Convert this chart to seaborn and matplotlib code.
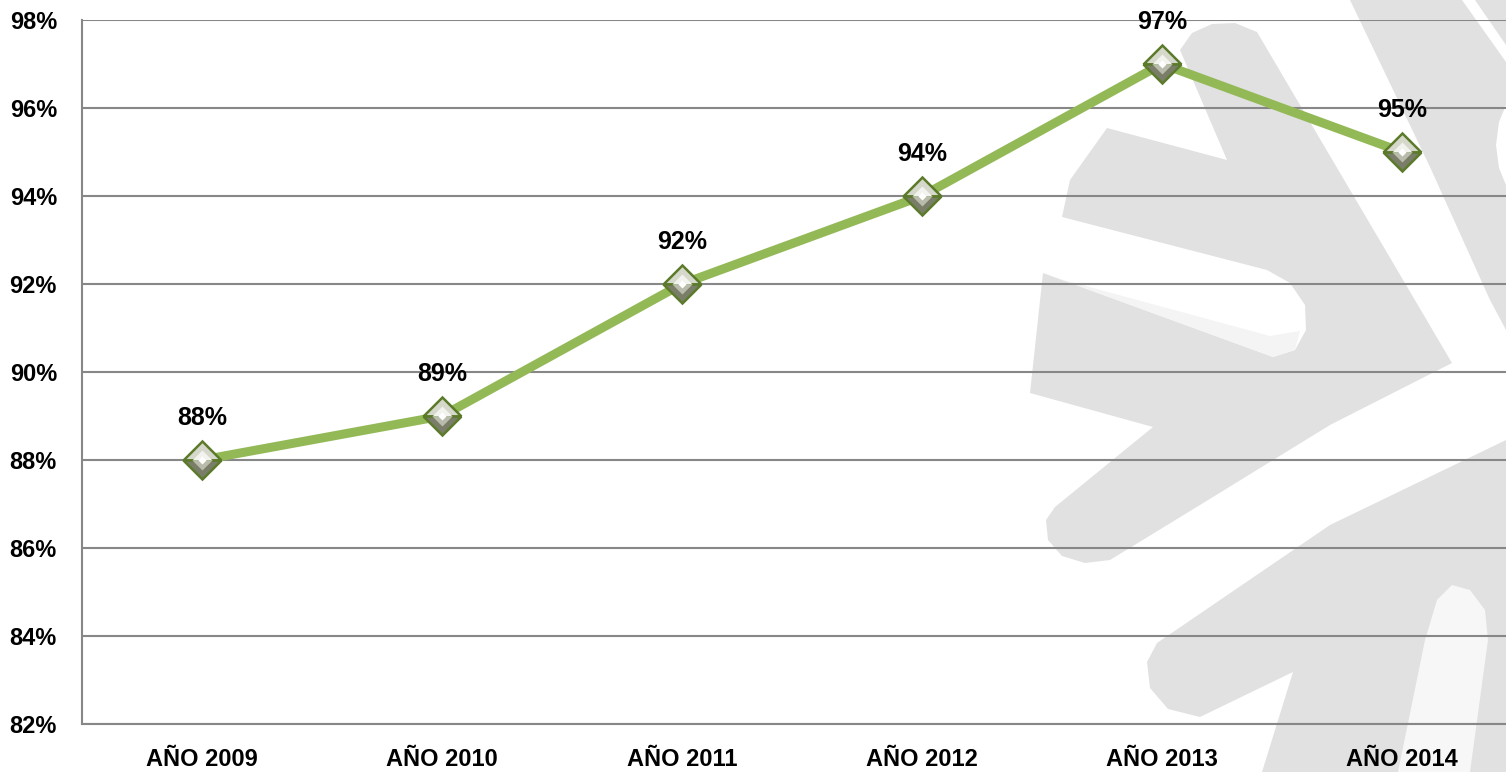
import matplotlib
matplotlib.use("Agg")
import matplotlib.pyplot as plt
from matplotlib.patches import Polygon
import numpy as np
import pandas as pd
import seaborn as sns

# --- data -------------------------------------------------------------
anios = ["AÑO 2009", "AÑO 2010", "AÑO 2011", "AÑO 2012", "AÑO 2013", "AÑO 2014"]
porcentaje = [88, 89, 92, 94, 97, 95]
y_ticks = [82, 84, 86, 88, 90, 92, 94, 96, 98]

df = pd.DataFrame({"anio": anios, "pct": porcentaje})

# --- style ------------------------------------------------------------
sns.set_theme(style="white")
plt.rcParams["font.family"] = ["Liberation Sans", "DejaVu Sans"]
plt.rcParams["font.weight"] = "bold"

W, H = 1506, 772
fig = plt.figure(figsize=(W / 100, H / 100), dpi=100)
fig.patch.set_facecolor("white")

# --- background logo (pixel coordinates, y pointing down) -------------
bg = fig.add_axes([0, 0, 1, 1], zorder=0)
bg.set_xlim(0, W)
bg.set_ylim(H, 0)
bg.axis("off")

logo_grey = "#e0e1e0"
logo_tint = "#f3f4f3"

shapes = [
    # main mass with its upper notch, side finger and lower notch
    (logo_grey, [(1180, 50), (1192, 33), (1212, 24), (1235, 23), (1257, 32),
                 (1452, 363), (1330, 425), (1200, 505), (1110, 560),
                 (1085, 563), (1062, 556), (1048, 540), (1046, 520), (1055, 507),
                 (1153, 427), (1030, 393), (1043, 273),
                 (1273, 357), (1295, 350), (1306, 330), (1305, 305), (1290, 283), (1267, 270),
                 (1062, 217), (1070, 180), (1107, 128), (1227, 160)]),
    # soft shade on the lower half of the finger
    (logo_tint, [(1043, 273), (1060, 279), (1270, 336), (1300, 331),
                 (1295, 350), (1273, 357)]),
    # upper right band
    (logo_grey, [(1350, 0), (1462, 0), (1506, 62), (1506, 330), (1490, 300), (1430, 167)]),
    (logo_grey, [(1475, 0), (1506, 0), (1506, 45)]),
    ("white", [(1506, 105), (1499, 122), (1496, 145), (1499, 168), (1506, 185)]),
    # lower arm and leg
    (logo_grey, [(1506, 440), (1330, 525), (1157, 643), (1147, 662), (1150, 688),
                 (1168, 709), (1200, 717), (1293, 672), (1262, 772), (1506, 772)]),
    # arch cut into the leg
    ("#f7f7f7", [(1398, 772), (1425, 640), (1437, 600), (1452, 585), (1470, 590),
                 (1485, 610), (1488, 640), (1470, 772)]),
]
for color, pts in shapes:
    bg.add_patch(Polygon(pts, closed=True, facecolor=color, edgecolor="none"))

# --- main chart -------------------------------------------------------
left, bottom = 82 / W, (H - 724) / H
ax = fig.add_axes([left, bottom, 1440 / W, 704 / H], zorder=1)
ax.set_facecolor("none")

line_green = "#93b957"
sns.lineplot(data=df, x="anio", y="pct", ax=ax, color=line_green,
             linewidth=6.5, sort=False, zorder=3)

xi = np.arange(len(anios))
# bevelled diamond markers: light upper half, dark lower half, bright centre
ax.plot(xi, porcentaje, linestyle="none", marker="D", markersize=19,
        fillstyle="top", markerfacecolor="#d6d8cb", markerfacecoloralt="#7a7e68",
        markeredgecolor="#5b7a2a", markeredgewidth=1.8, zorder=4)
ax.plot(xi, porcentaje, linestyle="none", marker="D", markersize=10,
        fillstyle="top", markerfacecolor="#f2f3ee", markerfacecoloralt="#b9bcaa",
        markeredgecolor="none", zorder=5)
ax.plot(xi, porcentaje, linestyle="none", marker="D", markersize=4,
        markerfacecolor="white", markeredgecolor="none", zorder=6)

for x, v in zip(xi, porcentaje):
    ax.annotate(f"{v}%", (x, v), xytext=(0, 30), textcoords="offset points",
                ha="center", va="center", fontsize=18, fontweight="bold",
                color="black", zorder=7)

ax.set_xlim(-0.5, 5.5)
ax.set_ylim(82, 98)
ax.set_yticks(y_ticks)
ax.set_yticklabels([f"{t}%" for t in y_ticks])
ax.set_xticks(xi)
ax.set_xticklabels(anios)
ax.set_xlabel("")
ax.set_ylabel("")

grid_c = "#878787"
ax.grid(axis="y", color=grid_c, linewidth=1.5, zorder=1)
ax.grid(axis="x", visible=False)
ax.set_axisbelow(True)
for side in ("top", "right"):
    ax.spines[side].set_visible(False)
for side in ("left", "bottom"):
    ax.spines[side].set_color(grid_c)
    ax.spines[side].set_linewidth(1.5)

ax.tick_params(axis="y", length=0, pad=18, labelsize=17, labelcolor="black")
ax.tick_params(axis="x", length=0, pad=17, labelsize=17, labelcolor="black")
for lab in ax.get_xticklabels() + ax.get_yticklabels():
    lab.set_fontweight("bold")

fig.savefig("out.png", dpi=100, facecolor="white")
